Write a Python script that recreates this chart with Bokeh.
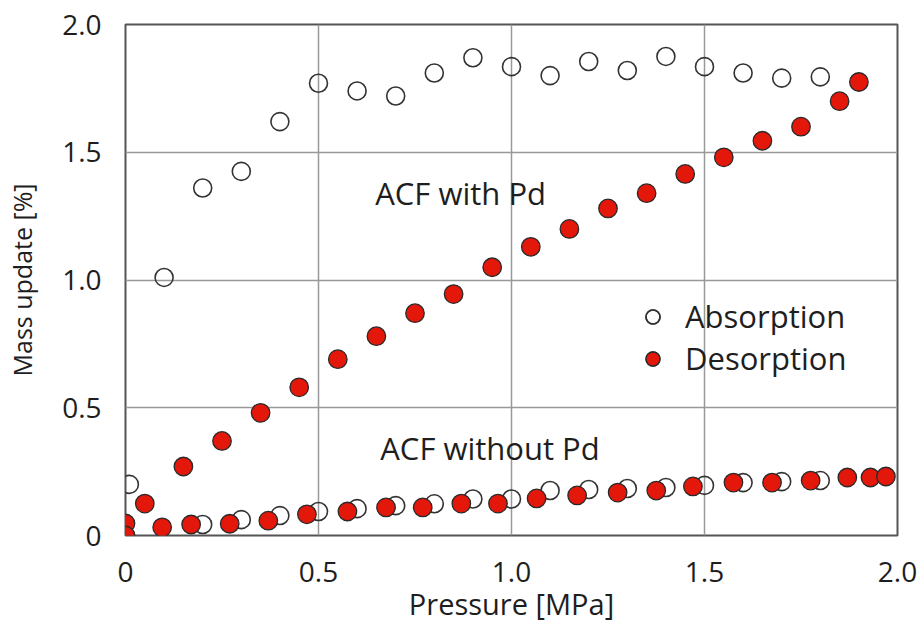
from bokeh.plotting import figure
from bokeh.models import (ColumnDataSource, FixedTicker, Legend, LegendItem, Label, Range1d)
from bokeh.embed import file_html
from bokeh.resources import INLINE

# ---- data ----
abs_pd_x = [0.01, 0.1, 0.2, 0.3, 0.4, 0.5, 0.6, 0.7, 0.8, 0.9, 1.0, 1.1, 1.2, 1.3, 1.4, 1.5, 1.6, 1.7, 1.8]
abs_pd_y = [0.20, 1.01, 1.36, 1.425, 1.62, 1.77, 1.74, 1.72, 1.81, 1.87, 1.835, 1.80, 1.855, 1.82, 1.875, 1.835, 1.81, 1.79, 1.795]

des_pd_x = [0.0, 0.05, 0.15, 0.25, 0.35, 0.45, 0.55, 0.65, 0.75, 0.85, 0.95, 1.05, 1.15, 1.25, 1.35, 1.45, 1.55, 1.65, 1.75, 1.85, 1.9]
des_pd_y = [0.0, 0.125, 0.27, 0.37, 0.48, 0.58, 0.69, 0.78, 0.87, 0.945, 1.05, 1.13, 1.20, 1.28, 1.34, 1.415, 1.48, 1.545, 1.60, 1.70, 1.775]

abs_nopd_x = [0.2, 0.3, 0.4, 0.5, 0.6, 0.7, 0.8, 0.9, 1.0, 1.1, 1.2, 1.3, 1.4, 1.5, 1.6, 1.7, 1.8]
abs_nopd_y = [0.043, 0.062, 0.078, 0.094, 0.105, 0.117, 0.124, 0.143, 0.143, 0.176, 0.18, 0.184, 0.188, 0.196, 0.207, 0.211, 0.215]

des_nopd_x = [0.0, 0.095, 0.17, 0.27, 0.37, 0.47, 0.575, 0.675, 0.77, 0.87, 0.965, 1.065, 1.17, 1.275, 1.375, 1.47, 1.575, 1.675, 1.775, 1.87, 1.93, 1.97]
des_nopd_y = [0.047, 0.032, 0.043, 0.046, 0.058, 0.083, 0.094, 0.11, 0.11, 0.125, 0.125, 0.145, 0.157, 0.168, 0.176, 0.192, 0.207, 0.207, 0.215, 0.227, 0.227, 0.231]

x_ticks = [0, 0.5, 1.0, 1.5, 2.0]
y_ticks = [0, 0.5, 1.0, 1.5, 2.0]
tick_labels = {0: "0", 0.5: "0.5", 1.0: "1.0", 1.5: "1.5", 2.0: "2.0"}

annot_text = ["ACF with Pd", "ACF without Pd"]
annot_x = [0.647, 0.66]
annot_y = [1.34, 0.344]

x_title = "Pressure [MPa]"
y_title = "Mass update [%]"

series_names = ["Absorption", "Desorption"]

FONT = "Open Sans"
TXT = "#1e1e1e"
RED = "#e3170a"

p = figure(width=922, height=625, output_backend="svg", toolbar_location=None,
           x_range=Range1d(0, 2), y_range=Range1d(0, 2),
           min_border_left=125, min_border_right=25, min_border_top=24, min_border_bottom=90)

p.outline_line_color = "#555555"
p.outline_line_width = 2
p.background_fill_color = "white"
p.border_fill_color = "white"

for ax in (p.xaxis[0], p.yaxis[0]):
    ax.axis_line_color = None
    ax.major_tick_line_color = None
    ax.minor_tick_line_color = None
    ax.major_tick_out = 0
    ax.major_tick_in = 0
    ax.major_label_text_font = FONT
    ax.major_label_text_font_size = "28px"
    ax.major_label_text_color = TXT
    ax.axis_label_text_font = FONT
    ax.axis_label_text_font_style = "normal"
    ax.axis_label_text_color = TXT

p.xaxis.major_label_standoff = 26
p.yaxis.major_label_standoff = 24
p.xaxis.axis_label_text_font_size = "29px"
p.yaxis.axis_label_text_font_size = "25px"
p.xaxis.ticker = FixedTicker(ticks=x_ticks)
p.yaxis.ticker = FixedTicker(ticks=y_ticks)
p.xaxis.major_label_overrides = tick_labels
p.yaxis.major_label_overrides = tick_labels
p.xaxis.axis_label = x_title
p.yaxis.axis_label = y_title
p.xaxis.axis_label_standoff = -1
p.yaxis.axis_label_standoff = 20

p.grid.grid_line_color = "#999999"
p.grid.grid_line_width = 1.5

src_abs_pd = ColumnDataSource(dict(x=abs_pd_x, y=abs_pd_y))
src_abs_nopd = ColumnDataSource(dict(x=abs_nopd_x, y=abs_nopd_y))
src_des_pd = ColumnDataSource(dict(x=des_pd_x, y=des_pd_y))
src_des_nopd = ColumnDataSource(dict(x=des_nopd_x, y=des_nopd_y))

open_kw = dict(size=18, fill_color=None, line_color="#333333", line_width=1.6)
red_kw = dict(size=18.5, fill_color=RED, line_color="#2a2a2a", line_width=1.3)

r_abs_pd = p.scatter("x", "y", source=src_abs_pd, **open_kw)
r_abs_nopd = p.scatter("x", "y", source=src_abs_nopd, **open_kw)
r_des_nopd = p.scatter("x", "y", source=src_des_nopd, **red_kw)
r_des_pd = p.scatter("x", "y", source=src_des_pd, **red_kw)

for t, x, y in zip(annot_text, annot_x, annot_y):
    p.add_layout(Label(x=x, y=y, text=t, text_font=FONT, text_font_size="31px",
                       text_color=TXT, text_baseline="middle", text_align="left"))

legend = Legend(items=[LegendItem(label=series_names[0], renderers=[r_abs_pd, r_abs_nopd]),
                       LegendItem(label=series_names[1], renderers=[r_des_pd, r_des_nopd])],
                location=(510, 156), glyph_width=35, glyph_height=35, spacing=-3,
                label_standoff=15, padding=0, margin=0,
                border_line_color=None, background_fill_alpha=0,
                label_text_font=FONT, label_text_font_size="31px", label_text_color=TXT)
p.add_layout(legend)

open("out.html", "w").write(file_html(p, INLINE))
